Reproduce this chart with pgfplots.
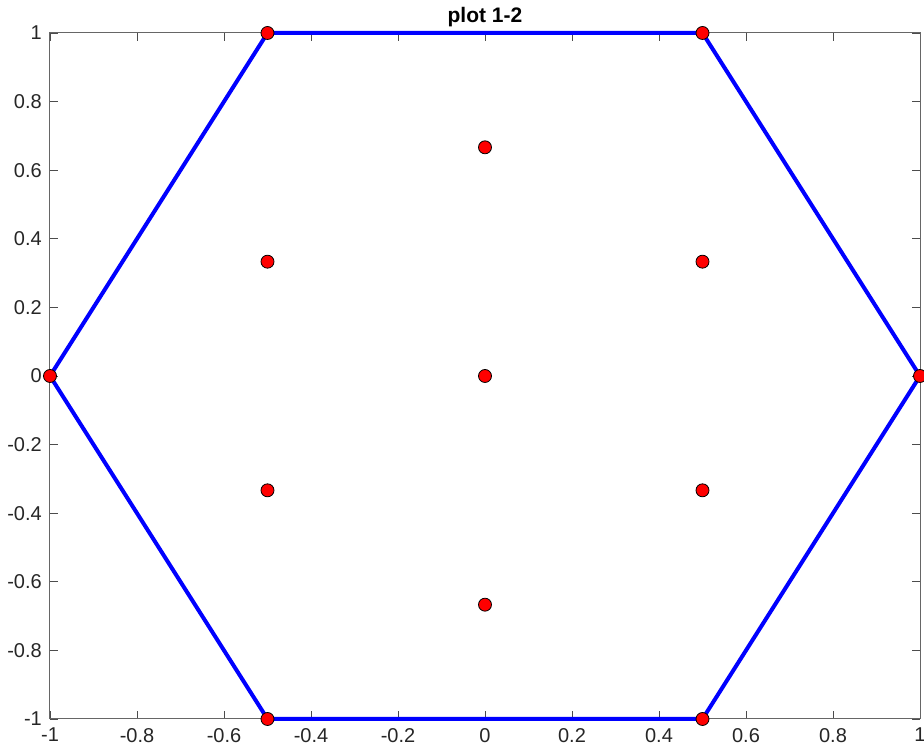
\documentclass[border=0pt]{standalone}
\usepackage{fontspec}
\setmainfont{Liberation Sans}
\usepackage{pgfplots}
\pgfplotsset{compat=1.18}
\begin{document}
\begin{tikzpicture}
\begin{axis}[
  scale only axis,
  width=870pt, height=686pt,
  xmin=-1, xmax=1, ymin=-1, ymax=1,
  xtick={-1,-0.8,...,1.01}, ytick={-1,-0.8,...,1.01},
  xticklabels={-1,-0.8,-0.6,-0.4,-0.2,0,0.2,0.4,0.6,0.8,1},
  yticklabels={-1,-0.8,-0.6,-0.4,-0.2,0,0.2,0.4,0.6,0.8,1},
  tick align=inside,
  major tick length=8pt,
  tick style={color=black!70, line width=0.8pt},
  axis line style={color=black!60, line width=1pt},
  every tick label/.append style={font=\fontsize{20}{22}\selectfont, text=black!85, inner sep=0pt},
  xticklabel style={yshift=-9pt},
  yticklabel style={xshift=-8pt},
  /pgf/number format/assume math mode=true,
  title={plot 1-2},
  title style={font=\fontsize{21}{23}\selectfont\bfseries, at={(0.5,1)}, anchor=base, yshift=4pt, inner sep=0pt},
  clip=false,
]
\addplot[blue, line width=4pt] coordinates {
  (1,0) (0.5,1) (-0.5,1) (-1,0) (-0.5,-1) (0.5,-1) (1,0)
};
\addplot[only marks, mark=*, mark size=6.5pt, mark options={fill=red, draw=black, line width=0.8pt}] coordinates {
  (1,0) (0.5,1) (-0.5,1) (-1,0) (-0.5,-1) (0.5,-1)
  (0,0.6667) (0,-0.6667) (0,0)
  (-0.5,0.3333) (0.5,0.3333) (-0.5,-0.3333) (0.5,-0.3333)
};
\end{axis}
\pgfresetboundingbox
\path ([xshift=-50pt,yshift=-29pt]current axis.south west) rectangle ([xshift=4pt,yshift=33pt]current axis.north east);
\end{tikzpicture}
\end{document}
